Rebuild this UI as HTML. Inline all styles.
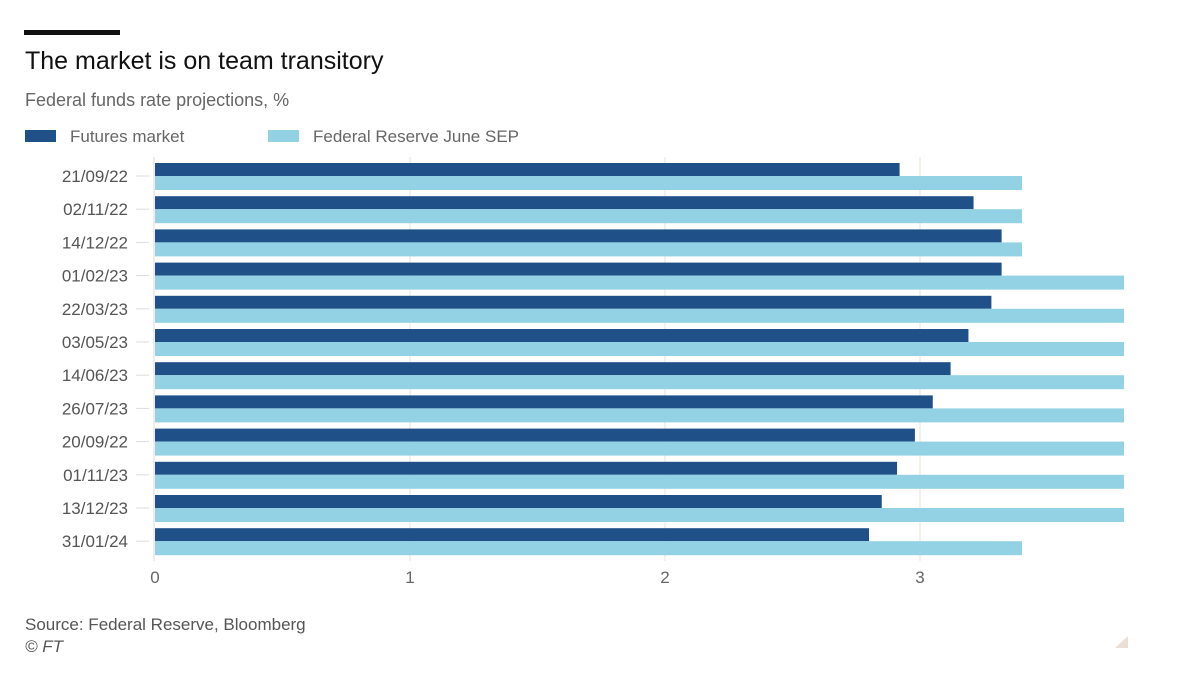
<!DOCTYPE html>
<html><head><meta charset="utf-8"><style>
body{margin:0;background:#fff;width:1200px;height:675px;overflow:hidden;font-family:"Liberation Sans",sans-serif}
</style></head><body>
<svg width="1200" height="675" xmlns="http://www.w3.org/2000/svg">
<rect x="24" y="30" width="96" height="5" fill="#111"/>
<text x="25" y="69" font-size="25" fill="#111">The market is on team transitory</text>
<text x="25" y="106" font-size="18" fill="#666">Federal funds rate projections, %</text>
<g>
<rect x="25" y="130" width="31" height="12" fill="#1f5088"/>
<text x="70" y="142" font-size="17" fill="#666">Futures market</text>
<rect x="268" y="130" width="31" height="12" fill="#93d2e5"/>
<text x="313" y="142" font-size="17" fill="#666">Federal Reserve June SEP</text>
</g>
<g id="plot"></g>
<text x="25" y="630" font-size="17" fill="#555">Source: Federal Reserve, Bloomberg</text>
<text x="25" y="652" font-size="17" font-style="italic" fill="#555">© FT</text>
<polygon points="1128,636 1128,648 1115,648" fill="#eadfd6"/>
</svg>
<script>
const categories=["21/09/22","02/11/22","14/12/22","01/02/23","22/03/23","03/05/23","14/06/23","26/07/23","20/09/22","01/11/23","13/12/23","31/01/24"];
const futures=[2.92,3.21,3.32,3.32,3.28,3.19,3.12,3.05,2.98,2.91,2.85,2.80];
const fed=[3.4,3.4,3.4,3.8,3.8,3.8,3.8,3.8,3.8,3.8,3.8,3.4];
const ticks=[0,1,2,3];
const NS="http://www.w3.org/2000/svg";
const g=document.getElementById("plot");
const x=v=>155+v*255;
const y=i=>163+i*33.2;
function mk(t,a){const e=document.createElementNS(NS,t);for(const k in a)e.setAttribute(k,a[k]);g.appendChild(e);return e;}
ticks.forEach(t=>{
 if(t>0){const l=mk("line",{x1:x(t),x2:x(t),y1:157,y2:561,stroke:"#e8e0da","stroke-width":1});
 
 }
 const tx=mk("text",{x:x(t),y:583,"font-size":17,fill:"#666","text-anchor":"middle"});tx.textContent=t;
 
 
});
const ax=mk("line",{x1:154,x2:154,y1:157,y2:561,stroke:"#e2dad4","stroke-width":1});


categories.forEach((c,i)=>{
 const yy=y(i);
 const a=mk("rect",{x:x(0),y:yy,width:x(futures[i])-x(0),height:13,fill:"#1f5088"});
 
 
 const b=mk("rect",{x:x(0),y:yy+13,width:x(fed[i])-x(0),height:14,fill:"#93d2e5"});
 
 
 const tk=mk("line",{x1:136,x2:149,y1:yy+13,y2:yy+13,stroke:"#ddd","stroke-width":1});
 
 
 const t=mk("text",{x:128,y:yy+19,"font-size":17,fill:"#555","text-anchor":"end"});t.textContent=c;
 
 
});
</script>
</body></html>
